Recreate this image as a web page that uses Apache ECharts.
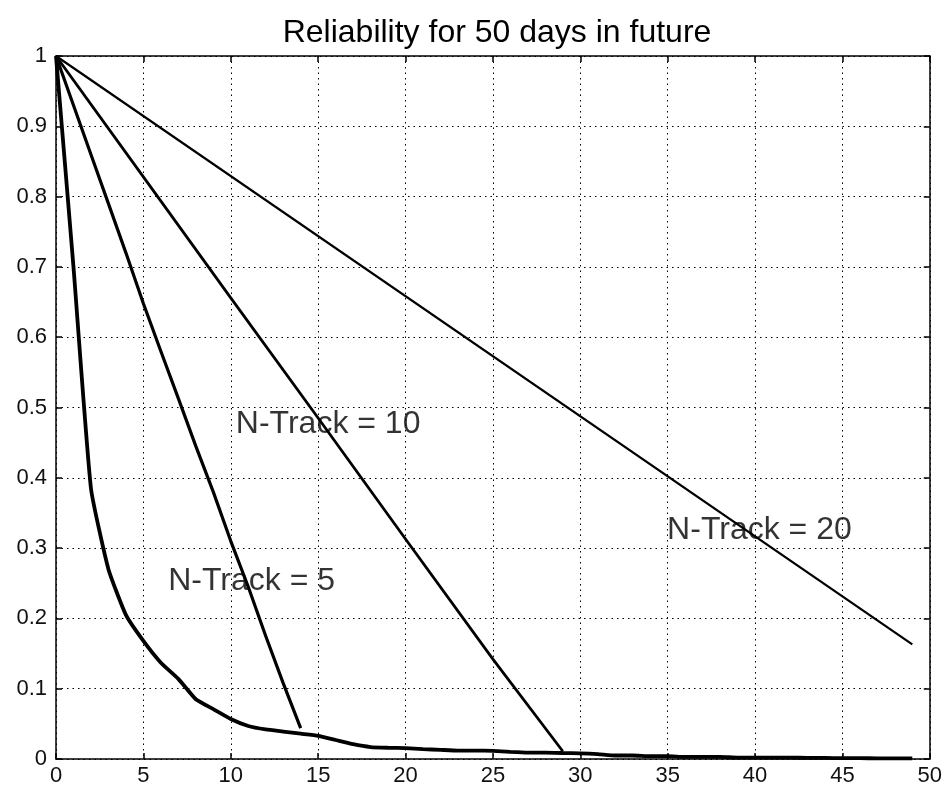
<!DOCTYPE html>
<html>
<head>
<meta charset="utf-8">
<script src="https://cdn.jsdelivr.net/npm/echarts@6/dist/echarts.min.js"></script>
<style>
html,body{margin:0;padding:0;background:#fff;}
#chart{width:945px;height:787px;}
</style>
</head>
<body>
<div id="chart"></div>
<script>
// ---- data ----
var titleText = 'Reliability for 50 days in future';

// N-Track = 1 (thick steep curve, unlabeled)
var days1 = [0,1,2,3,4,5,6,7,8,9,10,11,12,13,14,15,16,17,18,19,20,21,22,23,24,25,26,27,28,29,30,31,32,33,34,35,36,37,38,39,40,41,42,43,44,45,46,47,48,49];
var rel1  = [1,0.70,0.385,0.27,0.205,0.168,0.137,0.114,0.085,0.071,0.057,0.047,0.042,0.039,0.036,0.033,0.027,0.021,0.017,0.016,0.0155,0.014,0.013,0.012,0.012,0.0115,0.010,0.009,0.009,0.0085,0.008,0.007,0.005,0.005,0.004,0.004,0.003,0.003,0.003,0.002,0.002,0.002,0.002,0.0015,0.0015,0.0012,0.0012,0.001,0.001,0.001];

// N-Track = 5
var days5 = [0,1,2,3,4,5,6,7,8,9,10,11,12,13,14];
var rel5  = [1,0.93,0.86,0.79,0.72,0.648,0.58,0.513,0.445,0.38,0.31,0.245,0.175,0.108,0.044];

// N-Track = 10
var days10 = [0,5,10,15,20,25,29];
var rel10  = [1,0.828,0.656,0.485,0.313,0.142,0.011];

// N-Track = 20
var days20 = [0,49];
var rel20  = [1,0.163];

// annotation texts and anchors (data coords)
var labelTexts = ['N-Track = 5','N-Track = 10','N-Track = 20'];
var labelX = [6.42, 10.29, 34.97];
var labelY = [0.2525, 0.4766, 0.3252];

var xTicks = {min:0, max:50, interval:5};
var yTicks = {min:0, max:1, interval:0.1};

function pairs(xs, ys){ return xs.map(function(x,i){ return [x, ys[i]]; }); }

var FONT = 'Liberation Sans, Arial, sans-serif';
var chart = echarts.init(document.getElementById('chart'), null, {renderer:'canvas'});

var axisCommon = {
  type:'value',
  axisLine:{show:true, onZero:false, lineStyle:{color:'#000', width:1.5}},
  axisTick:{show:true, inside:true, length:6, lineStyle:{color:'#000', width:1.5}},
  splitLine:{show:false}
};

var option = {
  backgroundColor:'#fff',
  animation:false,
  title:{
    text:titleText, left:492, top:12, textAlign:'center',
    textStyle:{fontFamily:FONT, fontSize:32, fontWeight:'normal', color:'#000'}
  },
  grid:{left:56, right:14, top:56, bottom:26, containLabel:false},
  xAxis:[
    Object.assign({}, axisCommon, {
      position:'bottom', min:xTicks.min, max:xTicks.max, interval:xTicks.interval,
      axisLabel:{show:true, margin:6, fontFamily:FONT, fontSize:22, color:'#111'},
      splitLine:{show:true, lineStyle:{color:'#000', width:1, type:[1.5,4]}}
    }),
    Object.assign({}, axisCommon, {
      position:'top', min:xTicks.min, max:xTicks.max, interval:xTicks.interval,
      axisLabel:{show:false}
    })
  ],
  yAxis:[
    Object.assign({}, axisCommon, {
      position:'left', min:yTicks.min, max:yTicks.max, interval:yTicks.interval,
      axisLabel:{show:true, margin:9, fontFamily:FONT, fontSize:22, color:'#111',
        formatter:function(v){ return String(Math.round(v*10)/10); }},
      splitLine:{show:true, lineStyle:{color:'#000', width:1, type:[1.5,4]}}
    }),
    Object.assign({}, axisCommon, {
      position:'right', min:yTicks.min, max:yTicks.max, interval:yTicks.interval,
      axisLabel:{show:false}
    })
  ],
  series:[
    {type:'line', data:pairs(days20, rel20), showSymbol:false, lineStyle:{color:'#000', width:2.2}, z:3},
    {type:'line', data:pairs(days10, rel10), showSymbol:false, lineStyle:{color:'#000', width:2.8}, z:3},
    {type:'line', data:pairs(days5, rel5), showSymbol:false, lineStyle:{color:'#000', width:3.2}, z:3},
    {type:'line', data:pairs(days1, rel1), showSymbol:false, smooth:0.15, lineStyle:{color:'#000', width:3.8}, z:3},
    {type:'scatter', symbolSize:0, z:5,
      data:labelTexts.map(function(t,i){ return [labelX[i], labelY[i], t]; }),
      label:{show:true, position:'right', distance:0, color:'#000', fontFamily:FONT, fontSize:32,
        formatter:function(p){ return p.value[2]; }}
    }
  ]
};
chart.setOption(option);
</script>
</body>
</html>
